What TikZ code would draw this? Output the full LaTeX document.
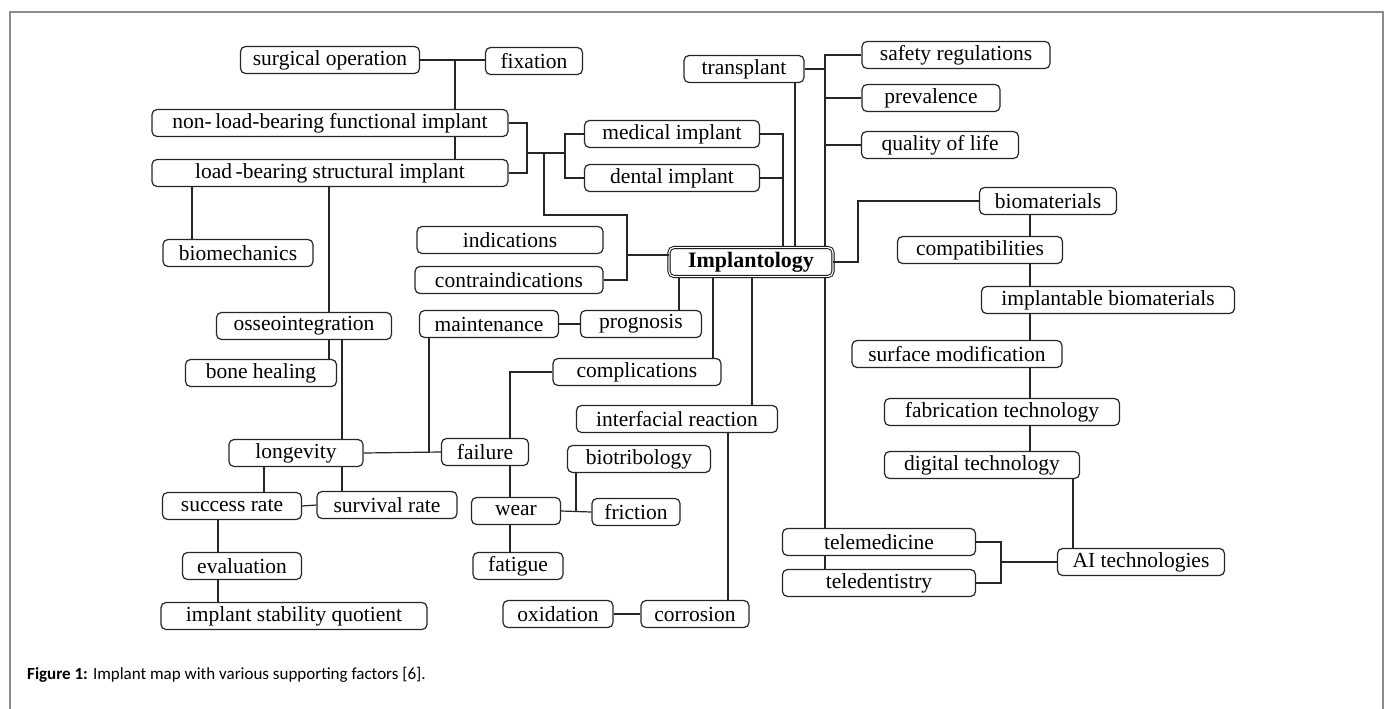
\documentclass[tikz,border=0pt]{standalone}
\usepackage{fontspec}
\setmainfont{Liberation Serif}
\newfontfamily\capfont{Carlito}
\begin{document}
\begin{tikzpicture}[x=1pt,y=-1pt,
  box/.style={draw=black!85, rounded corners=5pt, line width=1.2pt, fill=white,
    minimum height=27pt, inner sep=0pt, font=\fontsize{21.5}{24}\selectfont},
  hub/.style={draw=black, rounded corners=5pt, double, double distance=1.3pt, line width=0.9pt, fill=white,
    minimum height=29pt, inner sep=0pt, font=\fontsize{22}{24}\selectfont\bfseries},
  conn/.style={draw=black!85, line width=1.2pt},
  frame/.style={draw=black!45, line width=2pt}]
\useasboundingbox (0,0) rectangle (1389,709);
\draw[frame] (10,709) -- (10,12) -- (1383,12) -- (1383,709);

% junction x positions
\coordinate (c1) at (455,0);
\coordinate (c2) at (527,0);
\coordinate (c3) at (565,0);
\coordinate (j1) at (527,153);
\coordinate (j2) at (565,153);
\coordinate (j3) at (544,153);
\coordinate (j4) at (627,215);
\coordinate (j5) at (627,255);
\coordinate (c5) at (783,0);
\coordinate (c6) at (795,0);
\coordinate (c7) at (825,0);
\coordinate (c8) at (679,0);
\coordinate (c9) at (713,0);
\coordinate (c10) at (752,0);
\coordinate (c12) at (858,0);
\coordinate (c13) at (1030,0);
\coordinate (c14) at (1073,0);
\coordinate (c15) at (1001,0);
\coordinate (c16) at (192,0);
\coordinate (c17) at (329,0);
\coordinate (c18) at (342,0);
\coordinate (c19) at (429,0);
\coordinate (c20) at (510,0);
\coordinate (c22) at (576,0);
\coordinate (c23) at (728,0);
\coordinate (c24) at (264,0);
\coordinate (c25) at (218,0);

% nodes
\node[box, minimum width=179pt] (so) at (330,60) {surgical operation};
\node[box, minimum width=97pt] (fix) at (534,61) {fixation};
\node[box, minimum width=356pt] (nl) at (330,123) {non-\,load-bearing functional implant};
\node[box, minimum width=356pt] (lb) at (330,173) {load\,-bearing structural implant};
\node[box, minimum width=175pt] (med) at (672,134) {medical implant};
\node[box, minimum width=175pt] (dent) at (672,178) {dental implant};
\node[box, minimum width=120pt] (tr) at (744,69) {transplant};
\node[box, minimum width=188pt] (saf) at (956,55) {safety regulations};
\node[box, minimum width=138pt] (prev) at (931,98) {prevalence};
\node[box, minimum width=157pt] (qol) at (940,145) {quality of life};
\node[box, minimum width=137pt] (bio) at (1048,201) {biomaterials};
\node[box, minimum width=165pt] (compat) at (980,250) {compatibilities};
\node[box, minimum width=253pt] (impb) at (1108,300) {implantable biomaterials};
\node[box, minimum width=210pt] (surf) at (957,354) {surface modification};
\node[box, minimum width=235pt] (fab) at (1002,412) {fabrication technology};
\node[box, minimum width=195pt] (dig) at (982,465) {digital technology};
\node[box, minimum width=167pt] (ai) at (1141,562) {AI technologies};
\node[box, minimum width=193pt] (tmed) at (879,542) {telemedicine};
\node[box, minimum width=193pt] (tdent) at (879,583) {teledentistry};
\node[hub, minimum width=164pt] (imp) at (751,262) {Implantology};
\node[box, minimum width=186pt] (ind) at (510,240) {indications};
\node[box, minimum width=188pt] (contra) at (509,280) {contraindications};
\node[box, minimum width=150pt] (biomech) at (238,253) {biomechanics};
\node[box, minimum width=175pt] (osse) at (304,326) {osseointegration};
\node[box, minimum width=151pt] (bone) at (261,373) {bone healing};
\node[box, minimum width=139pt] (maint) at (489,324) {maintenance};
\node[box, minimum width=121pt] (prog) at (641,324) {prognosis};
\node[box, minimum width=168pt] (comp) at (637,372) {complications};
\node[box, minimum width=201pt] (inter) at (677,419) {interfacial reaction};
\node[box, minimum width=134pt] (long) at (296,453) {longevity};
\node[box, minimum width=87pt] (fail) at (485,452) {failure};
\node[box, minimum width=89pt] (wear) at (516,511) {wear};
\node[box, minimum width=90pt] (fat) at (518,566) {fatigue};
\node[box, minimum width=143pt] (biot) at (639,459) {biotribology};
\node[box, minimum width=88pt] (fric) at (636,512) {friction};
\node[box, minimum width=108pt] (corr) at (695,614) {corrosion};
\node[box, minimum width=110pt] (oxi) at (558,614) {oxidation};
\node[box, minimum width=139pt] (succ) at (232,506) {success rate};
\node[box, minimum width=140pt] (surv) at (387,505) {survival rate};
\node[box, minimum width=119pt] (eval) at (242,566) {evaluation};
\node[box, minimum width=266pt] (isq) at (294,616) {implant stability quotient};

% connectors
\path[conn] (so.east) -- (so.east -| fix.west);
\path[conn] (c1 |- so.east) -- (c1 |- nl.north);
\path[conn] (c1 |- nl.south) -- (c1 |- lb.north);
\path[conn] (nl.east) -| (c2 |- lb.east) -- (lb.east);
\path[conn] (med.west) -| (c3 |- dent.west) -- (dent.west);
\path[conn] (j1) -- (j2);
\path[conn] (j3) |- (j4) |- (contra.east);
\path[conn] (j5) -- (j5 -| imp.west);
\path[conn] (med.east) -| (c5 |- imp.north);
\path[conn] (dent.east) -- (c5 |- dent.east);
\path[conn] (c6 |- tr.south) -- (c6 |- imp.north);
\path[conn] (saf.west) -| (c7 |- imp.north);
\path[conn] (tr.east) -- (c7 |- tr.east);
\path[conn] (prev.west) -- (c7 |- prev.west);
\path[conn] (qol.west) -- (c7 |- qol.west);
\path[conn] (c8 |- imp.south) -- (c8 |- prog.north);
\path[conn] (c9 |- imp.south) -- (c9 |- comp.north);
\path[conn] (c10 |- imp.south) -- (c10 |- inter.north);
\path[conn] (c7 |- imp.south) -- (c7 |- tmed.north);
\path[conn] (c7 |- tmed.south) -- (c7 |- tdent.north);
\path[conn] (imp.east) -| (c12 |- bio.west) -- (bio.west);
\path[conn] (c13 |- bio.south) -- (c13 |- compat.north);
\path[conn] (c13 |- compat.south) -- (c13 |- impb.north);
\path[conn] (c13 |- impb.south) -- (c13 |- surf.north);
\path[conn] (c13 |- surf.south) -- (c13 |- fab.north);
\path[conn] (c13 |- fab.south) -- (c13 |- dig.north);
\path[conn] (c14 |- dig.south) -- (c14 |- ai.north);
\path[conn] (ai.west) -- (c15 |- ai.west);
\path[conn] (tmed.east) -| (c15 |- tdent.east) -- (tdent.east);
\path[conn] (c16 |- lb.south) -- (c16 |- biomech.north);
\path[conn] (c17 |- lb.south) -- (c17 |- osse.north);
\path[conn] (c17 |- osse.south) -- (c17 |- bone.north);
\path[conn] (c18 |- osse.south) -- (c18 |- long.north);
\path[conn] (long.east) -- (fail.west);
\path[conn] (c19 |- maint.south) -- (c19 |- fail.west);
\path[conn] (maint.east) -- (prog.west);
\path[conn] (comp.west) -| (c20 |- fail.north);
\path[conn] (c20 |- fail.south) -- (c20 |- wear.north);
\path[conn] (c20 |- wear.south) -- (c20 |- fat.north);
\path[conn] (wear.east) -- (fric.west);
\path[conn] (c22 |- fric.west) -- (c22 |- biot.south);
\path[conn] (c23 |- inter.south) -- (c23 |- corr.north);
\path[conn] (oxi.east) -- (corr.west);
\path[conn] (c24 |- long.south) -- (c24 |- succ.north);
\path[conn] (c18 |- long.south) -- (c18 |- surv.north);
\path[conn] (succ.east) -- (surv.west);
\path[conn] (c25 |- succ.south) -- (c25 |- eval.north);
\path[conn] (c25 |- eval.south) -- (c25 |- isq.north);

\node[anchor=base west, inner sep=0pt, font=\capfont\fontsize{17}{19}\selectfont] (cap) at (27,679)
  {\textbf{Figure 1:} Implant map with various supporting factors [6].};
\end{tikzpicture}
\end{document}
